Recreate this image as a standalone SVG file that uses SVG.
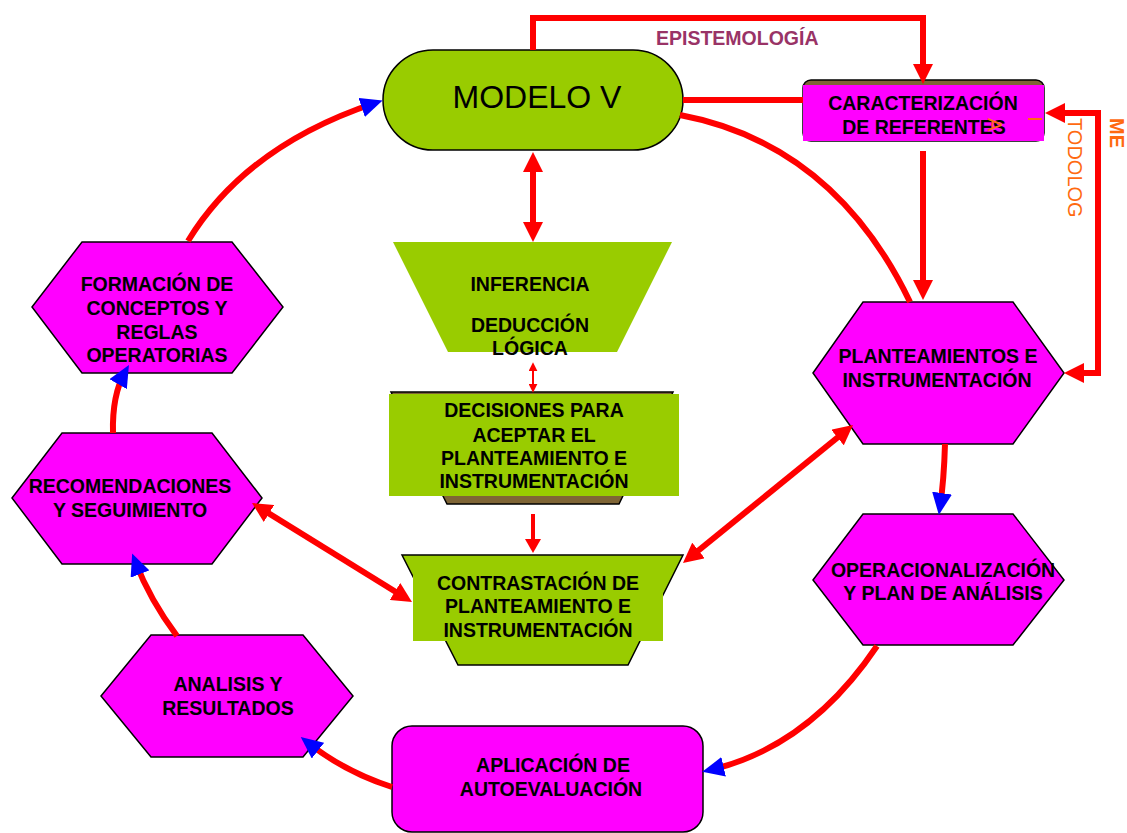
<svg xmlns="http://www.w3.org/2000/svg" width="1127" height="833" viewBox="0 0 1127 833">
  <style>
    .lbl { font-family: "Liberation Sans", Arial, sans-serif; font-weight: bold; font-size: 19.5px; fill: #000; text-anchor: middle; }
    .hex { fill: #ff00ff; stroke: #000; stroke-width: 1.5; stroke-linejoin: miter; }
    .green { fill: #99cc00; }
    .brown { fill: #7f6536; stroke: #000; stroke-width: 1.5; }
    .wire { fill: none; stroke: #ff0000; stroke-width: 6; }
    .wire-thin { fill: none; stroke: #ff0000; stroke-width: 2; }
    .wire-mid { fill: none; stroke: #ff0000; stroke-width: 4; }
    .orange { font-family: "Liberation Sans", Arial, sans-serif; font-size: 20px; fill: #ff6a10; }
  </style>
  <defs>
    <marker id="red-head" viewBox="0 0 20 20" refX="12" refY="10" markerWidth="20" markerHeight="20" markerUnits="userSpaceOnUse" orient="auto-start-reverse">
      <path d="M0,0 L20,10 L0,20 z" fill="#ff0000"/>
    </marker>
    <marker id="red-head-mid" viewBox="0 0 14 16" refX="8" refY="8" markerWidth="14" markerHeight="16" markerUnits="userSpaceOnUse" orient="auto-start-reverse">
      <path d="M0,0 L14,8 L0,16 z" fill="#ff0000"/>
    </marker>
    <marker id="red-head-small" viewBox="0 0 10 10" refX="7" refY="5" markerWidth="9" markerHeight="9" markerUnits="userSpaceOnUse" orient="auto-start-reverse">
      <path d="M0,0 L10,5 L0,10 z" fill="#ff0000"/>
    </marker>
    <marker id="blue-head" viewBox="0 0 22 20" refX="14" refY="10" markerWidth="22" markerHeight="20" markerUnits="userSpaceOnUse" orient="auto">
      <path d="M0,0 L22,10 L0,20 z" fill="#0000ff"/>
    </marker>
  </defs>

  <rect width="1127" height="833" fill="#ffffff"/>

  <!-- central column -->
  <g id="modelo-v">
    <rect x="383" y="50" width="300" height="100" rx="50" ry="50" class="green" stroke="#000" stroke-width="1.5"/>
    <text x="537" y="108" text-anchor="middle" font-family="'Liberation Sans', Arial, sans-serif" font-size="32" fill="#000">MODELO V</text>
  </g>

  <g id="inferencia">
    <polygon points="393,242 672,242 617,352 448,352" class="green"/>
    <text class="lbl" x="530" y="291">INFERENCIA</text>
    <text class="lbl" x="530" y="332">DEDUCCIÓN</text>
    <text class="lbl" x="530" y="355">LÓGICA</text>
  </g>

  <g id="decisiones">
    <polygon points="391,392 673,392 619,504 447,504" class="brown"/>
    <rect x="389" y="394" width="290" height="102" class="green"/>
    <text class="lbl" x="534" y="417">DECISIONES PARA</text>
    <text class="lbl" x="534" y="442">ACEPTAR EL</text>
    <text class="lbl" x="534" y="465">PLANTEAMIENTO E</text>
    <text class="lbl" x="534" y="488">INSTRUMENTACIÓN</text>
  </g>

  <g id="contrastacion">
    <polygon points="402,555 683,555 628,665 458,665" class="green" stroke="#000" stroke-width="1.5"/>
    <rect x="413" y="556" width="250" height="85" class="green"/>
    <text class="lbl" x="538" y="590">CONTRASTACIÓN DE</text>
    <text class="lbl" x="538" y="613">PLANTEAMIENTO E</text>
    <text class="lbl" x="538" y="637">INSTRUMENTACIÓN</text>
  </g>

  <!-- right side -->
  <g id="caracterizacion">
    <rect x="803" y="80" width="241" height="61" rx="8" ry="8" class="brown" stroke="#333"/>
    <rect x="803" y="85" width="241" height="56" fill="#ff00ff"/>
    <text class="lbl" x="923" y="110">CARACTERIZACIÓN</text>
    <text class="lbl" x="924" y="134">DE REFERENTES</text>
  </g>

  <g id="planteamientos">
    <polygon points="813,373 863,302 1013,302 1064,373 1013,444 863,444" class="hex"/>
    <text class="lbl" x="938" y="363">PLANTEAMIENTOS E</text>
    <text class="lbl" x="937" y="387">INSTRUMENTACIÓN</text>
  </g>

  <g id="operacionalizacion">
    <polygon points="813,580 863,514 1013,514 1064,580 1013,645 863,645" class="hex"/>
    <text class="lbl" x="943" y="577">OPERACIONALIZACIÓN</text>
    <text class="lbl" x="943" y="600">Y PLAN DE ANÁLISIS</text>
  </g>

  <!-- bottom -->
  <g id="aplicacion">
    <rect x="392" y="726" width="311" height="106" rx="20" ry="20" fill="#ff00ff" stroke="#000" stroke-width="1.5"/>
    <text class="lbl" x="553" y="772">APLICACIÓN DE</text>
    <text class="lbl" x="551" y="796">AUTOEVALUACIÓN</text>
  </g>

  <!-- left side -->
  <g id="analisis">
    <polygon points="101,696 151,635 303,635 353,696 303,757 151,757" class="hex"/>
    <text class="lbl" x="228" y="691">ANALISIS Y</text>
    <text class="lbl" x="228" y="715">RESULTADOS</text>
  </g>

  <g id="recomendaciones">
    <polygon points="12,498 62,433 212,433 262,498 212,564 62,564" class="hex"/>
    <text class="lbl" x="130" y="493">RECOMENDACIONES</text>
    <text class="lbl" x="130" y="517">Y SEGUIMIENTO</text>
  </g>

  <g id="formacion">
    <polygon points="32,307 82,242 232,242 283,307 232,373 82,373" class="hex"/>
    <text class="lbl" x="157" y="291">FORMACIÓN DE</text>
    <text class="lbl" x="157" y="315">CONCEPTOS Y</text>
    <text class="lbl" x="157" y="339">REGLAS</text>
    <text class="lbl" x="157" y="362">OPERATORIAS</text>
  </g>

  <g id="connectors">
    <!-- epistemology loop over the top -->
    <path class="wire" d="M533,50 V18 H923 V76" marker-end="url(#red-head)"/>
    <!-- model to referents -->
    <path class="wire" d="M683,100 H803"/>
    <!-- referents down to planteamientos -->
    <path class="wire" d="M923,151 V292" marker-end="url(#red-head)"/>
    <!-- methodology loop on the right -->
    <path class="wire" d="M1072,373 H1098 V113 H1053" marker-start="url(#red-head)" marker-end="url(#red-head)"/>
    <!-- big arc from model to planteamientos -->
    <path class="wire" d="M680,115 Q834,144 910,302"/>
    <!-- cycle arcs -->
    <path class="wire" d="M945,444 Q944,480 940,507" marker-end="url(#blue-head)"/>
    <path class="wire" d="M877,646 Q809,747 710,770" marker-end="url(#blue-head)"/>
    <path class="wire" d="M392,787 Q345,772 307,742" marker-end="url(#blue-head)"/>
    <path class="wire" d="M177,636 Q150,600 135,561" marker-end="url(#blue-head)"/>
    <path class="wire" d="M113,433 Q112,395 125,372" marker-end="url(#blue-head)"/>
    <path class="wire" d="M188,241 Q246,146 375,103" marker-end="url(#blue-head)"/>
    <!-- central column links -->
    <path class="wire" d="M533,160 V234" marker-start="url(#red-head)" marker-end="url(#red-head)"/>
    <path class="wire-thin" d="M533,365 V390" marker-start="url(#red-head-small)" marker-end="url(#red-head-small)"/>
    <path class="wire-mid" d="M533,514 V547" marker-end="url(#red-head-mid)"/>
    <!-- two-way links to contrastacion -->
    <path class="wire" d="M258.8,507.2 L405.2,597.8" marker-start="url(#red-head)" marker-end="url(#red-head)"/>
    <path class="wire" d="M689.2,558 L846.8,430" marker-start="url(#red-head)" marker-end="url(#red-head)"/>
  </g>

  <!-- labels on the loops -->
  <g id="loop-labels">
    <text x="656" y="45" font-family="'Liberation Sans', Arial, sans-serif" font-weight="bold" font-size="19.5" fill="#993366">EPISTEMOLOGÍA</text>
    <text class="orange" transform="translate(1068,118) rotate(90)">TODOLOG</text>
    <text class="orange" font-weight="bold" transform="translate(1110,118) rotate(90)">ME</text>
    <text class="orange" transform="translate(988,118) rotate(90)">A</text>
    <line x1="1028" y1="119" x2="1042" y2="119" stroke="#ff6a10" stroke-width="2"/>
  </g>
</svg>
